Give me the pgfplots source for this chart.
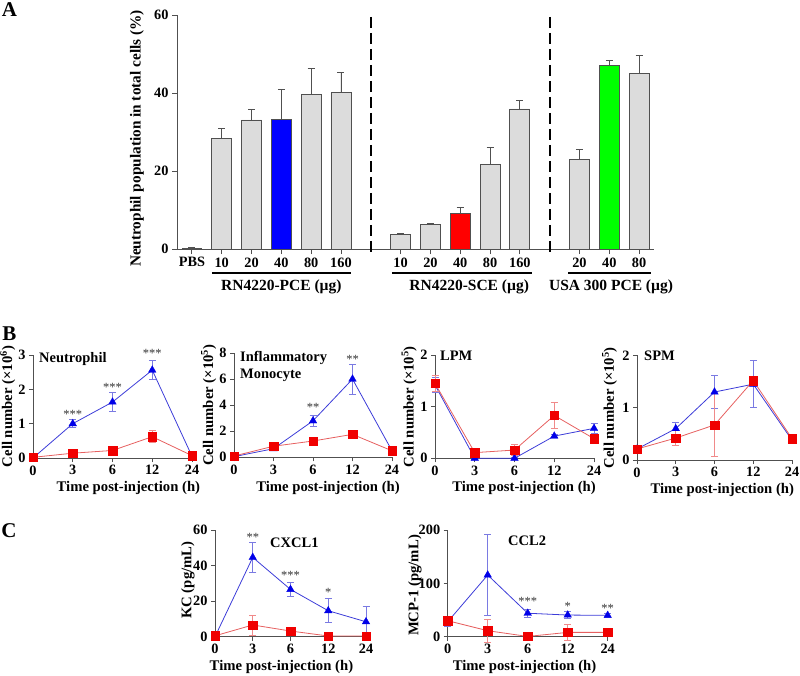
\documentclass[border=0pt]{standalone}
\usepackage{fontspec}
\setmainfont{Liberation Serif}
\usepackage{pgfplots}
\pgfplotsset{compat=1.18}
\usepackage{pgfplotstable}
\definecolor{barg}{HTML}{DCDCDC}
\definecolor{axg}{HTML}{505050}
\definecolor{ln1}{HTML}{3C3CD8}
\definecolor{mk1}{HTML}{0000E8}
\definecolor{eb1}{HTML}{7A7AE2}
\definecolor{ln2}{HTML}{E66060}
\definecolor{mk2}{HTML}{F00000}
\definecolor{eb2}{HTML}{F08A8A}
\newcommand\fs[1]{\fontsize{#1bp}{#1bp}\selectfont}

% Panel A
\pgfplotstableread{
x y e
0 0.2 0.1
1 28.4 2.4
2 33.1 2.7
4 39.7 6.5
5 40.1 5.2
7 3.8 0.2
8 6.4 0.2
10 21.7 4.4
11 35.9 2.3
13 23.0 2.5
15 45.1 4.5
}\Agray
\pgfplotstableread{
x y e
3 33.2 7.6
}\Ablue
\pgfplotstableread{
x y e
9 9.15 1.55
}\Ared
\pgfplotstableread{
x y e
14 47.2 1.1
}\Agreen
% Panel B
\pgfplotstableread{
x y e
0 0.0 0.0
1 1.00 0.12
2 1.63 0.27
3 2.56 0.28
4 0.05 0.02
}\BoneA
\pgfplotstableread{
x y e
0 0.02 0.01
1 0.14 0.03
2 0.22 0.04
3 0.62 0.17
4 0.07 0.02
}\BoneB
\pgfplotstableread{
x y e
0 0.05 0.02
1 0.66 0.10
2 2.80 0.45
3 6.00 1.15
4 0.50 0.10
}\BtwoA
\pgfplotstableread{
x y e
0 0.10 0.03
1 0.85 0.10
2 1.25 0.10
3 1.76 0.20
4 0.50 0.10
}\BtwoB
\pgfplotstableread{
x y e
0 1.42 0.15
1 0.00 0.02
2 0.00 0.02
3 0.43 0.03
4 0.58 0.10
}\BthreeA
\pgfplotstableread{
x y e
0 1.45 0.15
1 0.11 0.03
2 0.16 0.10
3 0.83 0.26
4 0.38 0.05
}\BthreeB
\pgfplotstableread{
x y e
0 0.21 0.03
1 0.60 0.12
2 1.30 0.31
3 1.45 0.45
4 0.38 0.06
}\BfourA
\pgfplotstableread{
x y e
0 0.21 0.03
1 0.42 0.15
2 0.67 0.60
3 1.52 0.08
4 0.41 0.05
}\BfourB
% Panel C
\pgfplotstableread{
x y e
0 0.0 0.0
1 44.6 8.4
2 26.6 4.0
3 14.6 6.8
4 8.4 8.4
}\ConeA
\pgfplotstableread{
x y e
0 0.5 0.3
1 6.6 5.6
2 3.2 0.8
3 0.4 0.3
4 0.4 0.3
}\ConeB
\pgfplotstableread{
x y e
0 28 8
1 115.6 76
2 44 8
3 40.6 7
4 40 3
}\CtwoA
\pgfplotstableread{
x y e
0 30 5
1 11.25 21
2 0.5 1
3 8.1 15
4 8.1 5
}\CtwoB

\pgfplotsset{
 base/.style={scale only axis, anchor=south west, clip=false,
   axis x line*=bottom, axis y line*=left,
   axis line style={axg, line width=0.9bp},
   every tick/.style={axg, line width=0.9bp},
   major tick length=4bp, tick align=outside,
   ticklabel style={font=\bfseries\fs{14.3}},
   /pgf/number format/assume math mode=true,
   label style={font=\bfseries\fs{14.7}},
   every axis y label/.append style={anchor=center},
   every axis x label/.append style={anchor=center}},
 time/.style={base, xmin=0, xmax=4, ymin=0, xtick={0,...,4},
   xticklabels={0,3,6,12,24}, xlabel={Time post-injection (h)}},
 sA/.style={ln1, line width=0.8bp, mark=triangle*, mark size=4.4bp,
   mark options={solid, mk1, fill=mk1, line width=0.3bp},
   error bars/y dir=both, error bars/y explicit,
   error bars/error bar style={eb1, line width=0.8bp},
   error bars/error mark options={rotate=90, eb1, mark size=3.5bp, line width=0.8bp}},
 sB/.style={ln2, line width=0.8bp, mark=square*, mark size=4.2bp,
   mark options={solid, mk2, fill=mk2, line width=0.3bp},
   error bars/y dir=both, error bars/y explicit,
   error bars/error bar style={eb2, line width=0.8bp},
   error bars/error mark options={rotate=90, eb2, mark size=3.5bp, line width=0.8bp}},
 bars/.style={ybar, bar width=0.67, bar shift=0pt, draw=axg, line width=0.8bp,
   error bars/y dir=plus, error bars/y explicit,
   error bars/error bar style={axg, line width=0.8bp},
   error bars/error mark options={rotate=90, axg, mark size=3.5bp, line width=0.8bp}},
}
\tikzset{star/.style={font=\fs{12.5}, black!80, anchor=base, inner sep=0pt}}

\begin{document}
\begin{tikzpicture}
\useasboundingbox (0,0) rectangle (800bp,-676bp);

% ---------- Panel A ----------
\begin{axis}[base, at={(177bp,-249bp)}, width=477bp, height=234bp,
  xmin=-0.5, xmax=15.5, ymin=0, ymax=60, ytick={0,20,40,60},
  major tick length=5bp,
  xtick={0,1,2,3,4,5,7,8,9,10,11,13,14,15},
  xticklabels={PBS,10,20,40,80,160,10,20,40,80,160,20,40,80},
  ylabel={Neutrophil population in total cells (\%)},
  ylabel style={font=\bfseries\fs{15.3}, at={(axis description cs:-0.084,0.472)}}]
\addplot[bars, fill=barg] table[x=x, y=y, y error=e] {\Agray};
\addplot[bars, fill=blue] table[x=x, y=y, y error=e] {\Ablue};
\addplot[bars, fill=red] table[x=x, y=y, y error=e] {\Ared};
\addplot[bars, fill=green] table[x=x, y=y, y error=e] {\Agreen};
\draw[black, line width=1.8bp, dash pattern=on 11bp off 5bp] (axis cs:6,59.5) -- (axis cs:6,-2);
\draw[black, line width=1.8bp, dash pattern=on 11bp off 5bp] (axis cs:12,59.5) -- (axis cs:12,-2);
\draw[black, line width=1.8bp] (axis cs:0.67,-6.15) -- (axis cs:5.34,-6.15);
\draw[black, line width=1.8bp] (axis cs:6.71,-6.15) -- (axis cs:11.41,-6.15);
\draw[black, line width=1.8bp] (axis cs:12.62,-6.15) -- (axis cs:15.4,-6.15);
\node[font=\bfseries\fs{15.5}] at (axis cs:3.0,-9.74) {RN4220-PCE (µg)};
\node[font=\bfseries\fs{15.5}] at (axis cs:9.3,-9.74) {RN4220-SCE (µg)};
\node[font=\bfseries\fs{15.5}] at (axis cs:14.06,-9.74) {USA 300 PCE (µg)};
\end{axis}

% ---------- Panel B ----------
\begin{axis}[time, at={(33bp,-458bp)}, width=159bp, height=103bp,
  ymax=3, ytick={0,1,2,3},
  ylabel={Cell number (×10\textsuperscript{6})},
  ylabel style={at={(axis description cs:-0.16,0.5)}},
  xlabel style={at={(axis description cs:0.60,-0.29)}}]
\addplot[sA] table[x=x, y=y, y error=e] {\BoneA};
\addplot[sB] table[x=x, y=y, y error=e] {\BoneB};
\node[star] at (axis cs:1,1.16) {***};
\node[star] at (axis cs:2,1.95) {***};
\node[star] at (axis cs:3,2.94) {***};
\end{axis}

\begin{axis}[time, at={(234bp,-457.3bp)}, width=158bp, height=104.3bp,
  ymax=8, ytick={0,2,4,6,8},
  ylabel={Cell number (×10\textsuperscript{5})},
  ylabel style={at={(axis description cs:-0.16,0.5)}},
  xlabel style={at={(axis description cs:0.595,-0.29)}}]
\addplot[sA] table[x=x, y=y, y error=e] {\BtwoA};
\addplot[sB] table[x=x, y=y, y error=e] {\BtwoB};
\node[star] at (axis cs:2,3.49) {**};
\node[star] at (axis cs:3,7.23) {**};
\end{axis}

\begin{axis}[time, at={(435bp,-458.3bp)}, width=159bp, height=103.3bp,
  ymax=2, ytick={0,1,2},
  ylabel={Cell number (×10\textsuperscript{5})},
  ylabel style={at={(axis description cs:-0.162,0.5)}},
  xlabel style={at={(axis description cs:0.56,-0.29)}}]
\addplot[sA] table[x=x, y=y, y error=e] {\BthreeA};
\addplot[sB] table[x=x, y=y, y error=e] {\BthreeB};
\end{axis}

\begin{axis}[time, at={(637bp,-460bp)}, width=155bp, height=104.6bp,
  ymax=2, ytick={0,1,2},
  ylabel={Cell number (×10\textsuperscript{5})},
  ylabel style={at={(axis description cs:-0.177,0.5)}},
  xlabel style={at={(axis description cs:0.55,-0.29)}}]
\addplot[sA] table[x=x, y=y, y error=e] {\BfourA};
\addplot[sB] table[x=x, y=y, y error=e] {\BfourB};
\end{axis}

% ---------- Panel C ----------
\begin{axis}[time, at={(215bp,-636.7bp)}, width=151bp, height=106.7bp,
  ymax=60, ytick={0,20,40,60},
  ylabel={KC (pg/mL)},
  ylabel style={at={(axis description cs:-0.18,0.53)}},
  xlabel style={at={(axis description cs:0.44,-0.28)}}]
\addplot[sA] table[x=x, y=y, y error=e] {\ConeA};
\addplot[sB] table[x=x, y=y, y error=e] {\ConeB};
\node[star] at (axis cs:1,53.4) {**};
\node[star] at (axis cs:2,31.9) {***};
\node[star] at (axis cs:3,22.5) {*};
\end{axis}

\begin{axis}[time, at={(447.7bp,-636.7bp)}, width=160bp, height=106.7bp,
  ymax=200, ytick={0,100,200},
  ylabel={MCP-1 (pg/mL)},
  ylabel style={at={(axis description cs:-0.205,0.48)}},
  xlabel style={at={(axis description cs:0.48,-0.28)}}]
\addplot[sA] table[x=x, y=y, y error=e] {\CtwoA};
\addplot[sB] table[x=x, y=y, y error=e] {\CtwoB};
\node[star] at (axis cs:2,59.4) {***};
\node[star] at (axis cs:3,50) {*};
\node[star] at (axis cs:4,45.7) {**};
\end{axis}

% ---------- panel letters and titles ----------
\node[font=\bfseries\fs{21}] at (9.5bp,-10bp) {A};
\node[font=\bfseries\fs{21}] at (9.5bp,-334bp) {B};
\node[font=\bfseries\fs{21}] at (9bp,-531bp) {C};
\begin{scope}[every node/.style={font=\bfseries\fs{14.5}, anchor=west, inner sep=0pt}]
\node at (39bp,-359bp) {Neutrophil};
\node at (240bp,-358bp) {Inflammatory};
\node at (240bp,-375bp) {Monocyte};
\node at (440bp,-356bp) {LPM};
\node at (644bp,-356bp) {SPM};
\node at (270bp,-543bp) {CXCL1};
\node at (508bp,-541bp) {CCL2};
\end{scope}
\end{tikzpicture}
\end{document}
